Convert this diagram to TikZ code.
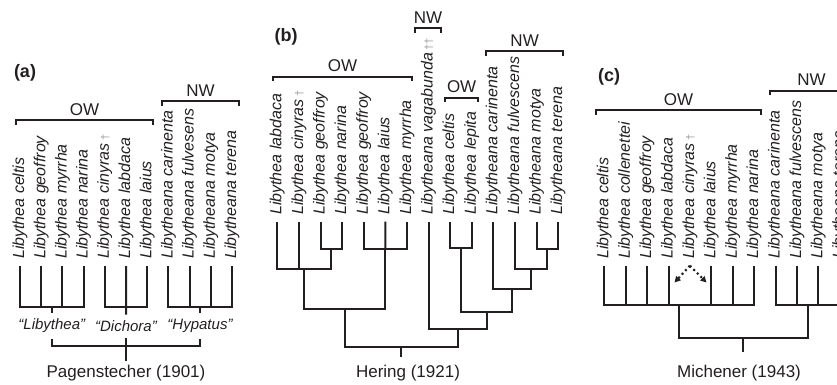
\documentclass[tikz,border=0pt]{standalone}
\usepackage{fontspec}
\setmainfont{Liberation Sans}
\usepackage{tikz}
\usetikzlibrary{arrows.meta}
\definecolor{treeline}{HTML}{231F20}
\definecolor{extinct}{HTML}{9A9A9A}
\newcommand{\leaffont}{\fontsize{16}{19}\selectfont\itshape}
\newcommand{\cladefont}{\fontsize{17}{20}\selectfont}
\newcommand{\ttlfont}{\fontsize{17}{20}\selectfont}
\newcommand{\extdag}{\,{\upshape\color{extinct}\fontsize{11}{11}\selectfont †}}
\newcommand{\extddag}{\,{\upshape\color{extinct}\fontsize{11}{11}\selectfont ††}}

\begin{document}
\begin{tikzpicture}[x=1pt,y=-1pt,
  tree/.style={draw=treeline,line width=2pt},
  brk/.style={draw=treeline,line width=1.8pt},
  dots/.style={draw=treeline,line width=2.2pt,dash pattern=on 2pt off 3pt,-{Triangle[length=6pt,width=6pt]}},
  leaf/.style={rotate=90,anchor=west,inner sep=0pt,font=\leaffont,text=treeline},
  clade/.style={anchor=base,inner sep=0pt,font=\cladefont,text=treeline},
  grp/.style={inner sep=0pt,outer sep=6pt,font=\fontsize{15}{18}\selectfont\itshape,text=treeline},
  ttl/.style={inner sep=0pt,font=\ttlfont,text=treeline},
  panel/.style={inner sep=0pt,font=\fontsize{18}{21}\selectfont\bfseries,text=treeline}]
  \useasboundingbox (0,0) rectangle (837,384);
  \clip (0,0) rectangle (837,384);

  % brackets OW / NW
  \foreach \xa/\xb/\yy/\t [count=\k] in {16/153/120/OW, 162/239/101/NW,
      273.3/411.7/76.7/OW, 415/441/28.3/NW, 445/478.3/97.7/OW, 486/563.3/51/NW,
      596/761/110/OW, 770/853/90.7/NW}{
    \draw[brk] (\xa,\yy+4.5) -- (\xa,\yy) -- (\xb,\yy) -- (\xb,\yy+4.5);
    \node[clade] (br\k) at ({(\xa+\xb)/2},\yy-5) {\t};
  }

  % (a) Pagenstecher
  \node[panel] (pa) at (25,73) {(a)};
  \foreach \t [count=\i] in {Libythea celtis, Libythea geoffroy, Libythea myrrha,
      Libythea narina, Libythea cinyras\extdag, Libythea labdaca, Libythea laius,
      Libytheana carinenta, Libytheana fulvesens, Libytheana motya, Libytheana terena}{
    \pgfmathsetmacro\x{20+21.2*(\i-1)}
    \coordinate (a\i) at (\x,266);
    \node[leaf] (la\i) at (\x,259) {\t};
  }
  \coordinate (ag1) at (51.8,307);
  \coordinate (ag2) at (126,307);
  \coordinate (ag3) at (200,307);
  \node[grp] (g1) at (51.8,326) {“Libythea”};
  \node[grp] (g2) at (126,326) {“Dichora”};
  \node[grp] (g3) at (200,326) {“Hypatus”};
  \draw[tree] (a1) |- (ag1) -| (a4);
  \draw[tree] (a5) |- (ag2) -| (a7);
  \draw[tree] (a8) |- (ag3) -| (a11);
  \foreach \i in {2,3} \draw[tree] (a\i) -- (a\i |- ag1);
  \foreach \i in {9,10} \draw[tree] (a\i) -- (a\i |- ag3);
  \draw[tree] (ag1) -- (g1.north);
  \draw[tree] (a6) -- (g2.north);
  \draw[tree] (ag3) -- (g3.north);
  \coordinate (aroot) at (126,346);
  \coordinate (aend) at (126,361);
  \draw[tree] (g1.south) |- (aroot) -| (g3.south);
  \draw[tree] (g2.south) -- (aend);
  \node[ttl] (ta) at (126,373) {Pagenstecher (1901)};

  % (b) Hering
  \node[panel] (pb) at (286,37) {(b)};
  \foreach \t [count=\i] in {Libythea labdaca, Libythea cinyras\extdag, Libythea geoffroy,
      Libythea narina, Libythea geoffroy, Libythea laius, Libythea myrrha,
      Libytheana vagabunda\extddag, Libythea celtis, Libythea lepita,
      Libytheana carinenta, Libytheana fulvescens, Libytheana motya, Libytheana terena}{
    \pgfmathsetmacro\x{277.3+21.6*(\i-1)}
    \coordinate (b\i) at (\x,221.7);
    \node[leaf] (lb\i) at (\x,215) {\t};
  }
  \coordinate (b34) at (331.3,249);
  \coordinate (b1234) at (304.3,269);
  \coordinate (b567) at (385.3,248.5);
  \coordinate (bOW) at (344.8,309);
  \coordinate (b910) at (460.9,247.5);
  \coordinate (b1314) at (547.3,248.5);
  \coordinate (b12n) at (531.1,269);
  \coordinate (b11n) at (512.2,289.3);
  \coordinate (bNW) at (486.6,311.7);
  \coordinate (bvag) at (457.5,329.3);
  \coordinate (broot) at (401.2,346.7);
  \coordinate (bend) at (401.2,356.7);
  \draw[tree] (b3) |- (b34) -| (b4);
  \draw[tree] (b1) |- (b1234) -| (b34);
  \draw[tree] (b2) -- (b2 |- b1234);
  \draw[tree] (b5) |- (b567) -| (b7);
  \draw[tree] (b6) -- (b567);
  \draw[tree] (b1234) |- (bOW) -| (b567);
  \draw[tree] (b9) |- (b910) -| (b10);
  \draw[tree] (b13) |- (b1314) -| (b14);
  \draw[tree] (b12) |- (b12n) -| (b1314);
  \draw[tree] (b11) |- (b11n) -| (b12n);
  \draw[tree] (b910) |- (bNW) -| (b11n);
  \draw[tree] (b8) |- (bvag) -| (bNW);
  \draw[tree] (bOW) |- (broot) -| (bvag);
  \draw[tree] (broot) -- (bend);
  \node[ttl] (tb) at (408,373) {Hering (1921)};

  % (c) Michener
  \node[panel] (pc) at (609,77) {(c)};
  \foreach \t [count=\i] in {Libythea celtis, Libythea collenettei, Libythea geoffroy,
      Libythea labdaca, Libythea cinyras\extdag, Libythea laius, Libythea myrrha,
      Libythea narina, Libytheana carinenta, Libytheana fulvescens, Libytheana motya,
      Libytheana terena}{
    \pgfmathsetmacro\x{604.3+21.4*(\i-1)}
    \coordinate (c\i) at (\x,265.7);
    \node[leaf] (lc\i) at (\x,259) {\t};
  }
  \coordinate (cOW) at (679.2,305);
  \coordinate (cNW) at (807.6,305);
  \coordinate (croot) at (743.4,337.7);
  \coordinate (cend) at (743.4,351.7);
  \draw[tree] (c1) |- (cOW) -| (c8);
  \foreach \i in {2,3,4,6,7} \draw[tree] (c\i) -- (c\i |- cOW);
  \draw[tree] (c9) |- (cNW) -| (c12);
  \foreach \i in {10,11} \draw[tree] (c\i) -- (c\i |- cNW);
  \draw[tree] (cOW) |- (croot) -| (cNW);
  \draw[tree] (croot) -- (cend);
  \coordinate (c5l) at (674.5,282.5);
  \coordinate (c5r) at (706.5,282.5);
  \draw[dots] (c5) -- (c5l);
  \draw[dots] (c5) -- (c5r);
  \node[ttl] (tc) at (739,373) {Michener (1943)};
\end{tikzpicture}
\end{document}
